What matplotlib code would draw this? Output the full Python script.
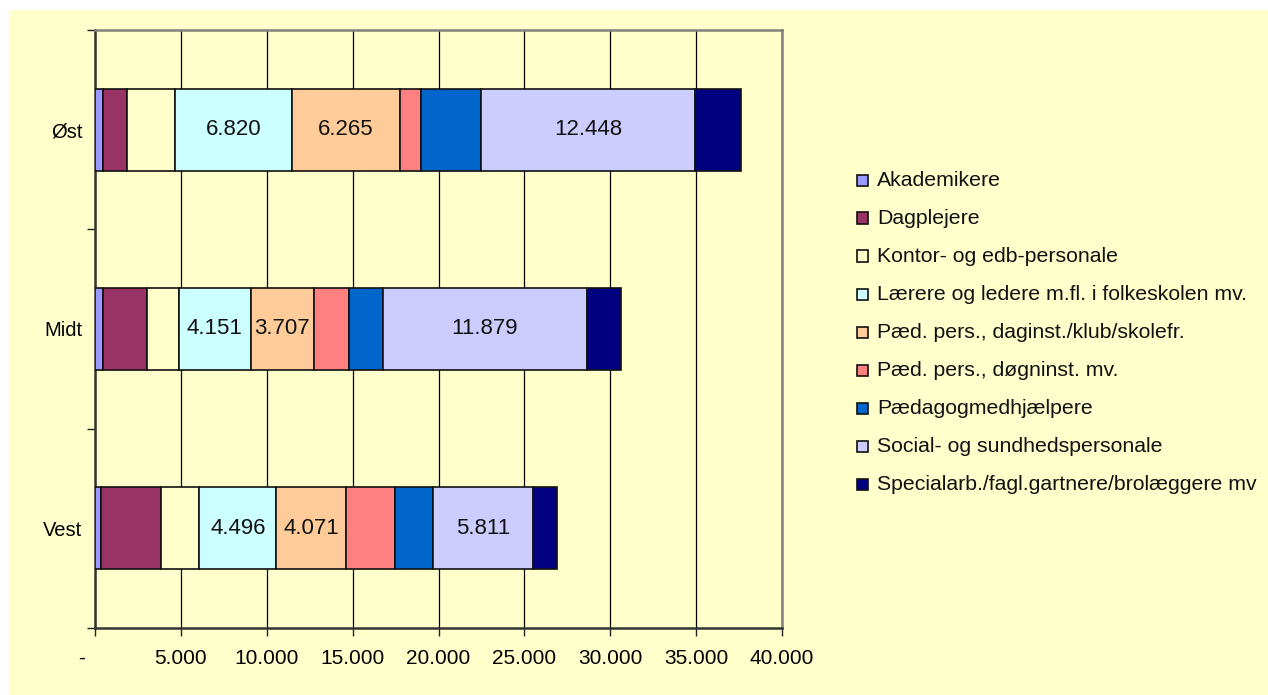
import matplotlib
matplotlib.use("Agg")
import matplotlib.pyplot as plt
from matplotlib.patches import Rectangle
import matplotlib.transforms as mtransforms
import numpy as np

plt.rcParams['font.family'] = ['Liberation Sans', 'DejaVu Sans']

regions = ["Vest", "Midt", "Øst"]
series = [
    "Akademikere",
    "Dagplejere",
    "Kontor- og edb-personale",
    "Lærere og ledere m.fl. i folkeskolen mv.",
    "Pæd. pers., daginst./klub/skolefr.",
    "Pæd. pers., døgninst. mv.",
    "Pædagogmedhjælpere",
    "Social- og sundhedspersonale",
    "Specialarb./fagl.gartnere/brolæggere mv",
]
# values per series for [Vest, Midt, Øst]
akademikere = [331, 447, 465]
dagplejere = [3524, 2559, 1378]
kontor = [2209, 1897, 2826]
laerere = [4496, 4151, 6820]
paed_dag = [4071, 3707, 6265]
paed_doegn = [2828, 2024, 1217]
paed_med = [2233, 1977, 3512]
social = [5811, 11879, 12448]
special = [1416, 1999, 2685]
values = [akademikere, dagplejere, kontor, laerere, paed_dag, paed_doegn,
          paed_med, social, special]
colors = ["#9999FF", "#993366", "#FFFFCC", "#CCFFFF", "#FFCC99", "#FF8080",
          "#0066CC", "#CCCCFF", "#000080"]
labelled = {3, 4, 7}
xticks = [0, 5000, 10000, 15000, 20000, 25000, 30000, 35000, 40000]
xticklabels = ["-", "5.000", "10.000", "15.000", "20.000", "25.000",
               "30.000", "35.000", "40.000"]

W, H = 1268, 695
fig = plt.figure(figsize=(W / 100, H / 100), dpi=100)
fig.patch.set_facecolor("white")
fig.patches.append(Rectangle((9 / W, 0), 1, 1 - 10 / H, transform=fig.transFigure,
                             facecolor="#FFFFCC", edgecolor="none", zorder=-10))

ax = fig.add_axes([95 / W, 1 - 628 / H, (782 - 95) / W, (628 - 30) / H])
ax.set_facecolor("#FFFFCC")

y = np.arange(len(regions))
left = np.zeros(len(regions))
for i, (name, vals, col) in enumerate(zip(series, values, colors)):
    bars = ax.barh(y, vals, left=left, height=0.41, color=col,
                   edgecolor="#111111", linewidth=1.2, label=name, zorder=3)
    if i in labelled:
        ax.bar_label(bars, labels=[f"{v:,}".replace(",", ".") for v in vals],
                     label_type="center", fontsize=16, color="#111111", zorder=4)
    left += np.array(vals)

ax.set_xlim(0, 40000)
ax.set_ylim(-0.5, 2.5)
ax.set_xticks(xticks)
ax.set_xticklabels(xticklabels, fontsize=15)
ax.xaxis.grid(True, color="black", linewidth=0.9, zorder=0)
ax.set_axisbelow(True)
ax.tick_params(axis="x", direction="out", length=6, width=1, color="#222222", pad=9)

ax.set_yticks([-0.5, 0.5, 1.5, 2.5])
ax.set_yticklabels([])
ax.set_yticks(y, minor=True)
ax.set_yticklabels(regions, minor=True, fontsize=14.5)
ax.tick_params(axis="y", which="major", direction="out", length=6, width=1, color="#222222")
ax.tick_params(axis="y", which="minor", length=0, pad=9)

for s in ["top", "right"]:
    ax.spines[s].set_color("#808080")
    ax.spines[s].set_linewidth(1.8)
for s in ["left", "bottom"]:
    ax.spines[s].set_color("#333333")
    ax.spines[s].set_linewidth(1.8)

# shift "-" label left (accounting format)
lab0 = ax.get_xticklabels()[0]
lab0.set_transform(lab0.get_transform() +
                   mtransforms.ScaledTranslation(-13 / 100, 0, fig.dpi_scale_trans))

# legend
y0 = 180.0
dy = 38.0
for i, (name, col) in enumerate(zip(series, colors)):
    yc = y0 + i * dy
    fig.patches.append(Rectangle((857 / W, 1 - (yc + 5.5) / H), 11 / W, 11 / H,
                                 transform=fig.transFigure, facecolor=col,
                                 edgecolor="#111111", linewidth=1.2, zorder=5))
    fig.text(877 / W, 1 - yc / H, name, fontsize=15.3, va="center", ha="left",
             color="#111111")

fig.savefig("out.png", dpi=100)
